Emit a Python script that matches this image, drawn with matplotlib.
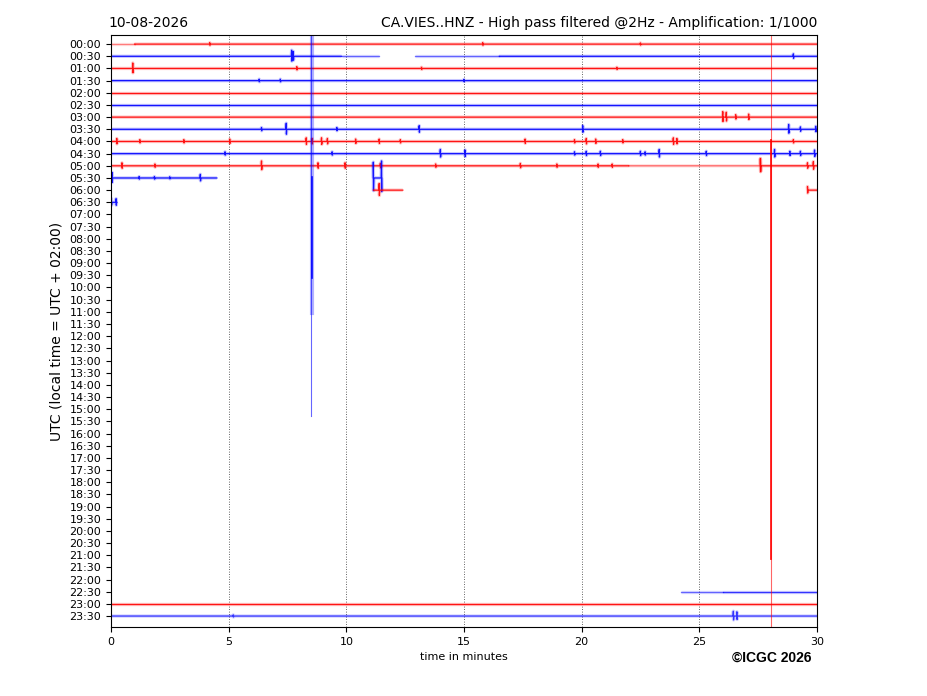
import matplotlib
matplotlib.use("Agg")
import matplotlib.pyplot as plt

# ---------------- data ----------------
row_labels = [f"{h:02d}:{m:02d}" for h in range(24) for m in (0, 30)]
x_ticks = [0, 5, 10, 15, 20, 25, 30]
date_text = "10-08-2026"
title_text = "CA.VIES..HNZ - High pass filtered @2Hz - Amplification: 1/1000"

# recorded segments per row: (start minute, end minute, opacity)
segments = {
    0: [(0.0, 1.0, 0.45), (1.0, 30.0, 0.9)],
    1: [(0.0, 9.8, 0.9), (9.8, 11.4, 0.55), (12.9, 16.5, 0.55), (16.5, 30.0, 0.9)],
    2: [(0.0, 30.0, 0.9)],
    3: [(0.0, 30.0, 0.9)],
    4: [(0.0, 30.0, 0.9)],
    5: [(0.0, 30.0, 0.9)],
    6: [(0.0, 30.0, 0.9)],
    7: [(0.0, 30.0, 0.9)],
    8: [(0.0, 30.0, 0.9)],
    9: [(0.0, 30.0, 0.9)],
    10: [(0.0, 22.0, 0.9), (22.0, 27.6, 0.55), (27.6, 30.0, 0.9)],
    11: [(0.0, 4.5, 0.9), (11.15, 11.5, 0.9)],
    12: [(11.15, 12.4, 0.9), (29.6, 30.0, 0.9)],
    13: [(0.0, 0.25, 0.9)],
    45: [(24.2, 26.0, 0.55), (26.0, 30.0, 0.75)],
    46: [(0.0, 30.0, 0.9)],
    47: [(0.0, 30.0, 0.75)],
}

# small wiggles per row: (minute, amplitude in row units)
events = {
    0: [(4.2, 0.12), (15.8, 0.12), (22.5, 0.1)],
    1: [(7.68, 0.5), (7.75, 0.4), (29.0, 0.2)],
    2: [(0.93, 0.45), (7.9, 0.15), (13.2, 0.1), (21.5, 0.1)],
    3: [(6.3, 0.12), (7.2, 0.12), (15.0, 0.1)],
    6: [(26.0, 0.45), (26.15, 0.4), (26.55, 0.2), (27.1, 0.25)],
    7: [(6.4, 0.15), (7.45, 0.5), (9.6, 0.15), (13.1, 0.3), (20.05, 0.3),
        (28.8, 0.4), (29.3, 0.2), (29.95, 0.25)],
    8: [(0.25, 0.25), (1.23, 0.15), (3.1, 0.15), (5.05, 0.2), (8.3, 0.3),
        (8.55, 0.25), (8.95, 0.3), (9.2, 0.25), (10.4, 0.2), (11.4, 0.2),
        (12.3, 0.15), (17.6, 0.2), (19.7, 0.15), (20.2, 0.25), (20.6, 0.2),
        (21.75, 0.15), (23.9, 0.3), (24.05, 0.25), (29.0, 0.15)],
    9: [(4.85, 0.15), (9.4, 0.15), (14.0, 0.35), (15.05, 0.3), (19.7, 0.15),
        (20.2, 0.2), (20.8, 0.2), (22.5, 0.2), (22.7, 0.15), (23.3, 0.35),
        (25.3, 0.2), (28.2, 0.35), (28.85, 0.2), (29.3, 0.2), (29.9, 0.3)],
    10: [(0.47, 0.25), (1.87, 0.15), (6.4, 0.4), (8.8, 0.25), (9.95, 0.25),
         (11.45, 0.2), (13.8, 0.15), (17.4, 0.2), (18.95, 0.15), (20.7, 0.15),
         (21.3, 0.15), (27.6, 0.6), (29.6, 0.25), (29.85, 0.35)],
    11: [(0.05, 0.45), (1.2, 0.12), (1.85, 0.12), (2.5, 0.1), (3.8, 0.3),
         (11.15, 1.3), (11.5, 1.4)],
    12: [(11.4, 0.55), (29.6, 0.3)],
    13: [(0.02, 0.3), (0.22, 0.3)],
    47: [(26.45, 0.4), (26.6, 0.35), (5.2, 0.1)],
}

# large excursions: (row, minute, up amplitude, down amplitude, line width, opacity)
excursions = [
    (11, 8.49, 12.0, 19.6, 0.8, 0.6),
    (11, 8.52, 12.0, 11.1, 3.0, 0.3),
    (11, 8.54, 0.1, 8.2, 1.2, 0.95),
    (10, 28.05, 12.0, 40.0, 0.8, 0.6),
    (10, 28.05, 2.1, 32.3, 1.3, 0.9),
]

row_colors = ["#ff0000", "#0000ff"]

# ---------------- figure ----------------
fig = plt.figure(figsize=(9.27, 6.96), dpi=100)
ax = fig.add_axes([111 / 927, 1 - 627 / 696, 706 / 927, 592 / 696])

for r in sorted(segments):
    col = row_colors[r % 2]
    evs = sorted(events.get(r, []))
    for (t0, t1, a) in segments[r]:
        xs, ys = [t0], [r]
        for (t, amp) in evs:
            if t0 <= t <= t1:
                xs += [max(t0, t - 0.02), t - 0.004, t + 0.004, min(t1, t + 0.02)]
                ys += [r, r - amp, r + amp * 0.8, r]
        xs.append(t1)
        ys.append(r)
        ax.plot(xs, ys, color=col, lw=2.4, alpha=a * 0.25, solid_capstyle="butt")
        ax.plot(xs, ys, color=col, lw=0.9, alpha=a)

for (r, t, up, down, lw, a) in excursions:
    ax.plot([t, t], [r - up, r + down], color=row_colors[r % 2], lw=lw, alpha=a)

for xv in x_ticks[1:-1]:
    ax.axvline(xv, color="black", lw=0.6, ls=(0, (1, 2)), alpha=0.8, zorder=0)

ax.set_xlim(0, 30)
ax.set_ylim(47.9, -0.75)
ax.set_xticks(x_ticks)
ax.set_xticklabels([str(v) for v in x_ticks], fontsize=8)
ax.set_yticks(range(len(row_labels)))
ax.set_yticklabels(row_labels, fontsize=8)
ax.set_xlabel("time in minutes", fontsize=8)
ax.set_ylabel("UTC (local time = UTC + 02:00)", fontsize=10)
ax.set_title(date_text, loc="left", fontsize=10, x=-0.003)
ax.set_title(title_text, loc="right", fontsize=10)

fig.text(811 / 927, 1 - 658 / 696, "©ICGC 2026", ha="right", va="center",
         fontsize=10, fontweight="bold", family=["Liberation Sans", "DejaVu Sans"])

fig.savefig("out.png", dpi=100)
